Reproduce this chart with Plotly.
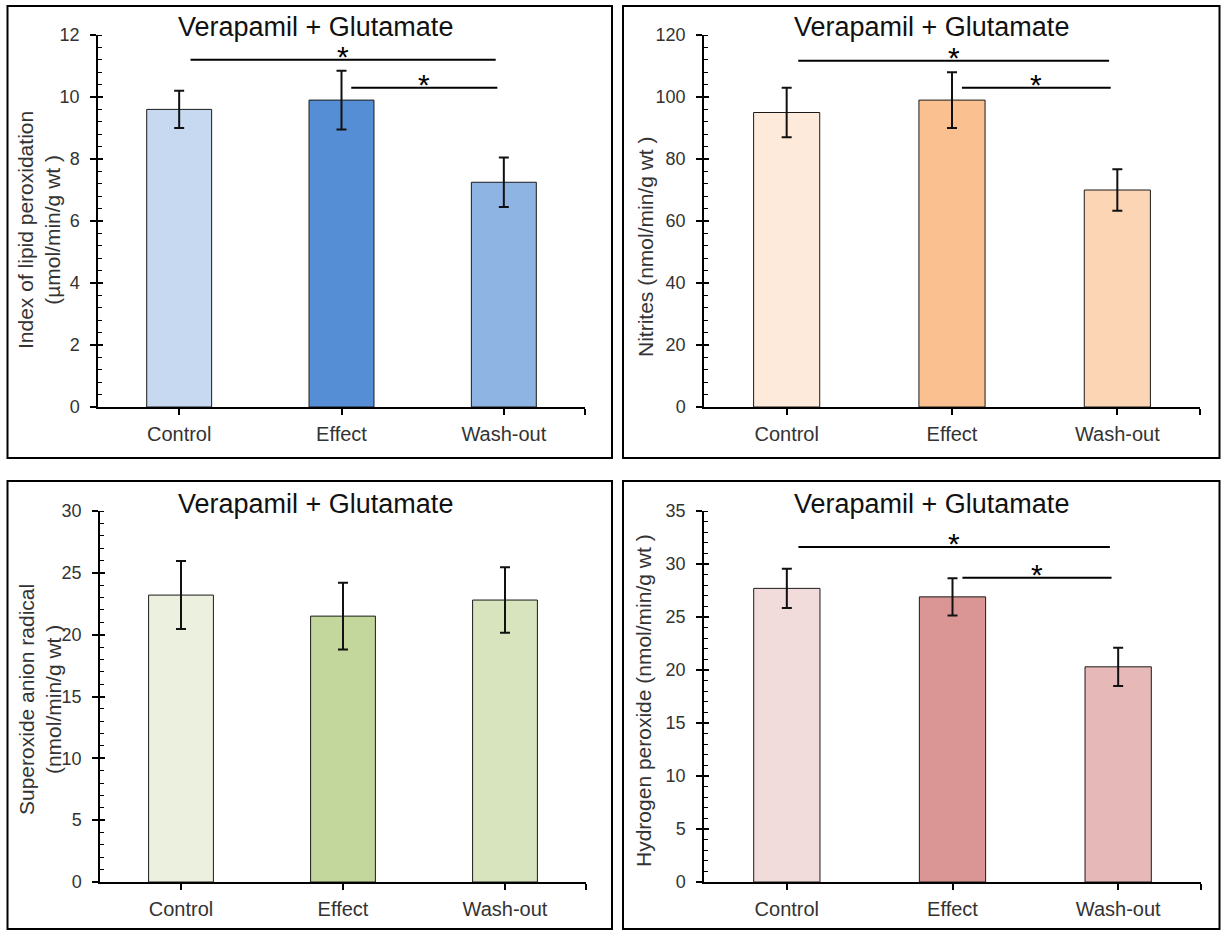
import plotly.graph_objects as go

# ---------------- data ----------------
categories = ["Control", "Effect", "Wash-out"]
panel_title = "Verapamil + Glutamate"

lipid_values = [9.6, 9.9, 7.25]
lipid_errors = [0.6, 0.95, 0.8]
nitrite_values = [95, 99, 70]
nitrite_errors = [8, 9, 6.7]
superoxide_values = [23.2, 21.5, 22.8]
superoxide_errors = [2.75, 2.7, 2.65]
peroxide_values = [27.7, 26.9, 20.3]
peroxide_errors = [1.85, 1.75, 1.8]

# significance bracket levels: [Control vs Wash-out, Effect vs Wash-out]
lipid_sig = [11.2, 10.3]
nitrite_sig = [111.7, 103]
superoxide_sig = []
peroxide_sig = [31.6, 28.7]

lipid_axis = [0, 12, 2, 0.4]
nitrite_axis = [0, 120, 20, 4]
superoxide_axis = [0, 30, 5, 1]
peroxide_axis = [0, 35, 5, 1]

lipid_label = "Index of lipid peroxidation<br>(µmol/min/g wt )"
nitrite_label = "Nitrites (nmol/min/g wt )"
superoxide_label = "Superoxide anion radical<br>(nmol/min/g wt )"
peroxide_label = "Hydrogen peroxide (nmol/min/g wt )"

blue_colors = ["#C6D9F1", "#558ED5", "#8EB4E3"]
orange_colors = ["#FDEADA", "#FAC090", "#FCD5B5"]
green_colors = ["#EBF1DE", "#C3D69B", "#D7E4BD"]
red_colors = ["#F2DCDB", "#D99694", "#E6B9B8"]

# ---------------- layout geometry ----------------
W, H = 1221, 930
FONT = "Arial, Liberation Sans, sans-serif"
TXT = "#333333"


def px_x(p):
    return p / W


def px_y(p):
    return 1 - p / H


panels = [
    dict(vals=lipid_values, errs=lipid_errors, sig=lipid_sig, axis=lipid_axis,
         label=lipid_label, colors=blue_colors,
         xdom=(98, 585), ydom=(35, 407), title_xy=(316, 27), label_xy=(39, 230),
         box=(7.5, 6, 612, 458)),
    dict(vals=nitrite_values, errs=nitrite_errors, sig=nitrite_sig, axis=nitrite_axis,
         label=nitrite_label, colors=orange_colors,
         xdom=(704, 1200), ydom=(35, 407), title_xy=(931, 27), label_xy=(645, 247),
         box=(623, 6, 1219.5, 458)),
    dict(vals=superoxide_values, errs=superoxide_errors, sig=superoxide_sig, axis=superoxide_axis,
         label=superoxide_label, colors=green_colors,
         xdom=(100, 586), ydom=(511, 882), title_xy=(315, 504), label_xy=(40, 700),
         box=(7.5, 481, 612, 929)),
    dict(vals=peroxide_values, errs=peroxide_errors, sig=peroxide_sig, axis=peroxide_axis,
         label=peroxide_label, colors=red_colors,
         xdom=(704, 1201), ydom=(511, 882), title_xy=(931, 504), label_xy=(643, 701),
         box=(623, 481, 1219.5, 929)),
]

xpos = list(range(len(categories)))
# bracket spans in category units: (start, end) for each comparison
bracket_spans = [(0.07, 1.95), (1.06, 1.96)]

fig = go.Figure()
layout = dict(
    width=W, height=H,
    margin=dict(l=0, r=0, t=0, b=0, pad=0, autoexpand=False),
    paper_bgcolor="white", plot_bgcolor="rgba(0,0,0,0)",
    showlegend=False,
    font=dict(family=FONT, color=TXT),
    shapes=[], annotations=[],
)

for i, p in enumerate(panels, start=1):
    xa = f"x{i}"
    ya = f"y{i}"
    yo = f"y{i + 4}"
    fig.add_trace(go.Bar(
        x=xpos, y=p["vals"], width=0.4,
        marker=dict(color=p["colors"], line=dict(color="#1a1a1a", width=1)),
        error_y=dict(type="data", array=p["errs"], color="#111111", thickness=2, width=5),
        xaxis=xa, yaxis=ya, hoverinfo="skip",
    ))
    # invisible trace for the overlay axis carrying the inner half of major ticks
    fig.add_trace(go.Scatter(x=[0], y=[0], mode="markers", marker=dict(opacity=0),
                             xaxis=xa, yaxis=yo, hoverinfo="skip"))

    y0, y1, dt, mdt = p["axis"]
    xkey = "xaxis" if i == 1 else f"xaxis{i}"
    ykey = "yaxis" if i == 1 else f"yaxis{i}"
    layout[xkey] = dict(
        domain=[px_x(p["xdom"][0]), px_x(p["xdom"][1])], anchor=ya,
        range=[-0.5, 2.5], tickmode="array",
        tickvals=xpos + [2.5], ticktext=categories + [""],
        ticks="outside", ticklen=6, tickwidth=1.5, tickcolor="#000",
        showline=True, linecolor="#000", linewidth=1.5,
        showgrid=False, zeroline=False, fixedrange=True, automargin=False,
        tickfont=dict(size=20, color=TXT, family=FONT), ticklabelstandoff=2,
    )
    layout[ykey] = dict(
        domain=[px_y(p["ydom"][1]), px_y(p["ydom"][0])], anchor=xa,
        range=[y0, y1], tick0=0, dtick=dt,
        ticks="outside", ticklen=6, tickwidth=1.5, tickcolor="#000",
        minor=dict(dtick=mdt, tick0=0, ticks="inside", ticklen=4, tickwidth=1, tickcolor="#000"),
        showline=True, linecolor="#000", linewidth=1.5,
        showgrid=False, zeroline=False, fixedrange=True, automargin=False,
        tickfont=dict(size=18, color=TXT, family=FONT), ticklabelstandoff=7,
    )
    layout[f"yaxis{i + 4}"] = dict(
        overlaying=ya, anchor=xa, side="left",
        range=[y0, y1], tick0=0, dtick=dt,
        ticks="inside", ticklen=5, tickwidth=1.5, tickcolor="#000",
        showticklabels=False, showline=False, showgrid=False, zeroline=False,
        fixedrange=True, automargin=False,
    )

    # panel frame
    bx0, by0, bx1, by1 = p["box"]
    layout["shapes"].append(dict(type="rect", xref="paper", yref="paper",
                                 x0=px_x(bx0), x1=px_x(bx1), y0=px_y(by1), y1=px_y(by0),
                                 line=dict(color="#000", width=2), fillcolor="rgba(0,0,0,0)"))

    # significance brackets
    for level, (s0, s1) in zip(p["sig"], bracket_spans):
        layout["shapes"].append(dict(type="line", xref=xa, yref=ya,
                                     x0=s0, x1=s1, y0=level, y1=level,
                                     line=dict(color="#000", width=2)))
        layout["annotations"].append(dict(xref=xa, yref=ya, x=(s0 + s1) / 2, y=level,
                                          text="*", showarrow=False, yanchor="bottom",
                                          yshift=-15,
                                          font=dict(size=30, color="#000", family=FONT)))

    # title
    tx, ty = p["title_xy"]
    layout["annotations"].append(dict(xref="paper", yref="paper", x=px_x(tx), y=px_y(ty),
                                      xanchor="center", yanchor="middle", showarrow=False,
                                      text=panel_title,
                                      font=dict(size=27, color="#111111", family=FONT)))
    # y-axis label
    lx, ly = p["label_xy"]
    layout["annotations"].append(dict(xref="paper", yref="paper", x=px_x(lx), y=px_y(ly),
                                      xanchor="center", yanchor="middle", showarrow=False,
                                      textangle=-90, text=p["label"],
                                      font=dict(size=21, color=TXT, family=FONT)))

fig.update_layout(**layout)
fig.write_html(
    "out.html",
    config={"displayModeBar": False},
    post_script="document.documentElement.style.margin='0px';"
                "document.body.style.margin='0px';document.body.style.padding='0px';"
                "document.body.style.overflow='hidden';",
)
